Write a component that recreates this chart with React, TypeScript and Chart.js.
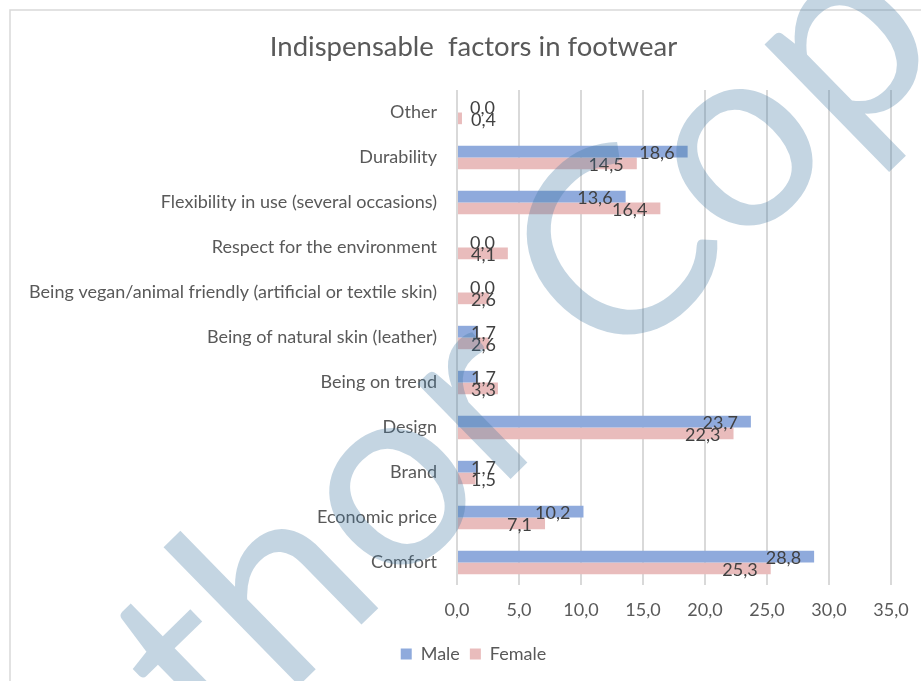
import React, { useEffect, useRef } from "react";
import { Chart, registerables } from "chart.js";

Chart.register(...registerables);

const categories = [
  "Other",
  "Durability",
  "Flexibility in use (several occasions)",
  "Respect for the environment",
  "Being vegan/animal friendly (artificial or textile skin)",
  "Being of natural skin (leather)",
  "Being on trend",
  "Design",
  "Brand",
  "Economic price",
  "Comfort",
];
const maleValues = [0.0, 18.6, 13.6, 0.0, 0.0, 1.7, 1.7, 23.7, 1.7, 10.2, 28.8];
const femaleValues = [0.4, 14.5, 16.4, 4.1, 2.6, 2.6, 3.3, 22.3, 1.5, 7.1, 25.3];
const seriesNames = ["Male", "Female"];
const xMin = 0;
const xMax = 35;
const xStep = 5;
const titleText = "Indispensable  factors in footwear";
const watermarkText = "Author Copy";

const FONT = "Lato, 'Open Sans', sans-serif";
const fmt = (v: number) => v.toFixed(1).replace(".", ",");

const framePlugin = {
  id: "frame",
  beforeDraw(chart: any) {
    const { ctx, width, height } = chart;
    ctx.save();
    ctx.fillStyle = "#ffffff";
    ctx.fillRect(0, 0, width, height);
    ctx.strokeStyle = "#d9d9d9";
    ctx.lineWidth = 1.5;
    ctx.beginPath();
    ctx.moveTo(10, height);
    ctx.lineTo(10, 10);
    ctx.lineTo(width, 10);
    ctx.stroke();
    ctx.restore();
  },
};

const labelPlugin = {
  id: "barLabels",
  afterDatasetsDraw(chart: any) {
    const { ctx } = chart;
    ctx.save();
    ctx.font = `18px ${FONT}`;
    ctx.fillStyle = "#404040";
    ctx.textBaseline = "middle";
    ctx.textAlign = "right";
    chart.data.datasets.forEach((ds: any, di: number) => {
      const meta = chart.getDatasetMeta(di);
      meta.data.forEach((el: any, i: number) => {
        const { x, y, base } = el.getProps(["x", "y", "base"], true);
        const txt = fmt(ds.data[i]);
        const w = ctx.measureText(txt).width;
        const right = Math.max(x - 13, base + 13 + w);
        ctx.fillText(txt, right, y + 1.5);
      });
    });
    ctx.restore();
  },
};

// watermark anchored on the centres of its two "o" letters
const wmO1 = { x: 398, y: 497 };
const wmO2 = { x: 747, y: 156 };

const watermarkPlugin = {
  id: "watermark",
  afterDraw(chart: any) {
    const { ctx } = chart;
    ctx.save();
    ctx.textAlign = "left";
    ctx.textBaseline = "alphabetic";
    ctx.font = `100px ${FONT}`;
    const m = (s: string) => ctx.measureText(s).width;
    const c1 = m("Auth") + m("o") / 2;
    const c2 = m("Author C") + m("o") / 2;
    const dist = Math.hypot(wmO2.x - wmO1.x, wmO2.y - wmO1.y);
    const size = Math.round((100 * dist) / (c2 - c1));
    const kk = size / 100;
    ctx.font = `${size}px ${FONT}`;
    const om = ctx.measureText("o");
    const cy = (om.actualBoundingBoxDescent - om.actualBoundingBoxAscent) / 2;
    const lx = c1 * kk;
    const a = Math.atan2(wmO2.y - wmO1.y, wmO2.x - wmO1.x);
    const ca = Math.cos(a);
    const sa = Math.sin(a);
    const tx = wmO1.x - (lx * ca - cy * sa);
    const ty = wmO1.y - (lx * sa + cy * ca);
    ctx.translate(tx, ty);
    ctx.rotate(a);
    ctx.fillStyle = "rgba(60,115,160,0.3)";
    ctx.fillText(watermarkText, 0, 0);
    ctx.restore();
  },
};

export default function App() {
  const ref = useRef<HTMLCanvasElement | null>(null);
  useEffect(() => {
    if (!ref.current) return;
    const chart = new Chart(ref.current, {
      type: "bar",
      data: {
        labels: categories,
        datasets: [
          {
            label: seriesNames[0],
            data: maleValues,
            backgroundColor: "#8faadc",
            categoryPercentage: 0.52,
            barPercentage: 1.0,
          },
          {
            label: seriesNames[1],
            data: femaleValues,
            backgroundColor: "#e9bcbc",
            categoryPercentage: 0.52,
            barPercentage: 1.0,
          },
        ],
      },
      options: {
        indexAxis: "y",
        responsive: false,
        animation: false,
        devicePixelRatio: 1,
        layout: { padding: { left: 0, right: 0, top: 0, bottom: 8 } },
        scales: {
          x: {
            min: xMin,
            max: xMax,
            ticks: {
              stepSize: xStep,
              color: "#595959",
              font: { family: FONT, size: 18 },
              padding: 14,
              callback: (v: any) => fmt(Number(v)),
            },
            grid: { color: "#d9d9d9", lineWidth: 2, drawTicks: false },
            border: { display: false },
            afterFit: (s: any) => {
              s.height = 50;
            },
          },
          y: {
            ticks: {
              color: "#595959",
              font: { family: FONT, size: 18 },
              padding: 20,
            },
            grid: { display: false, drawTicks: false },
            border: { display: false },
            afterFit: (s: any) => {
              s.width = 457;
            },
          },
          yR: {
            type: "linear",
            position: "right",
            display: true,
            ticks: { display: false },
            grid: { display: false, drawTicks: false },
            border: { display: false },
            afterFit: (s: any) => {
              s.width = 56;
            },
          },
        },
        plugins: {
          title: {
            display: true,
            text: titleText,
            color: "#595959",
            font: { family: FONT, size: 27.5, weight: "normal" },
            padding: { top: 30.6, bottom: 26.4 },
          },
          legend: {
            position: "bottom",
            labels: {
              color: "#595959",
              font: { family: FONT, size: 18 },
              boxWidth: 11,
              boxHeight: 11,
              padding: 10,
            },
          },
          tooltip: { enabled: false },
        },
      },
      plugins: [framePlugin, labelPlugin, watermarkPlugin],
    });
    return () => chart.destroy();
  }, []);
  return (
    <div
      style={{
        position: "absolute",
        left: 0,
        top: 0,
        width: 921,
        height: 681,
        overflow: "hidden",
      }}
    >
      <canvas ref={ref} width={947} height={681} style={{ display: "block" }} />
    </div>
  );
}
